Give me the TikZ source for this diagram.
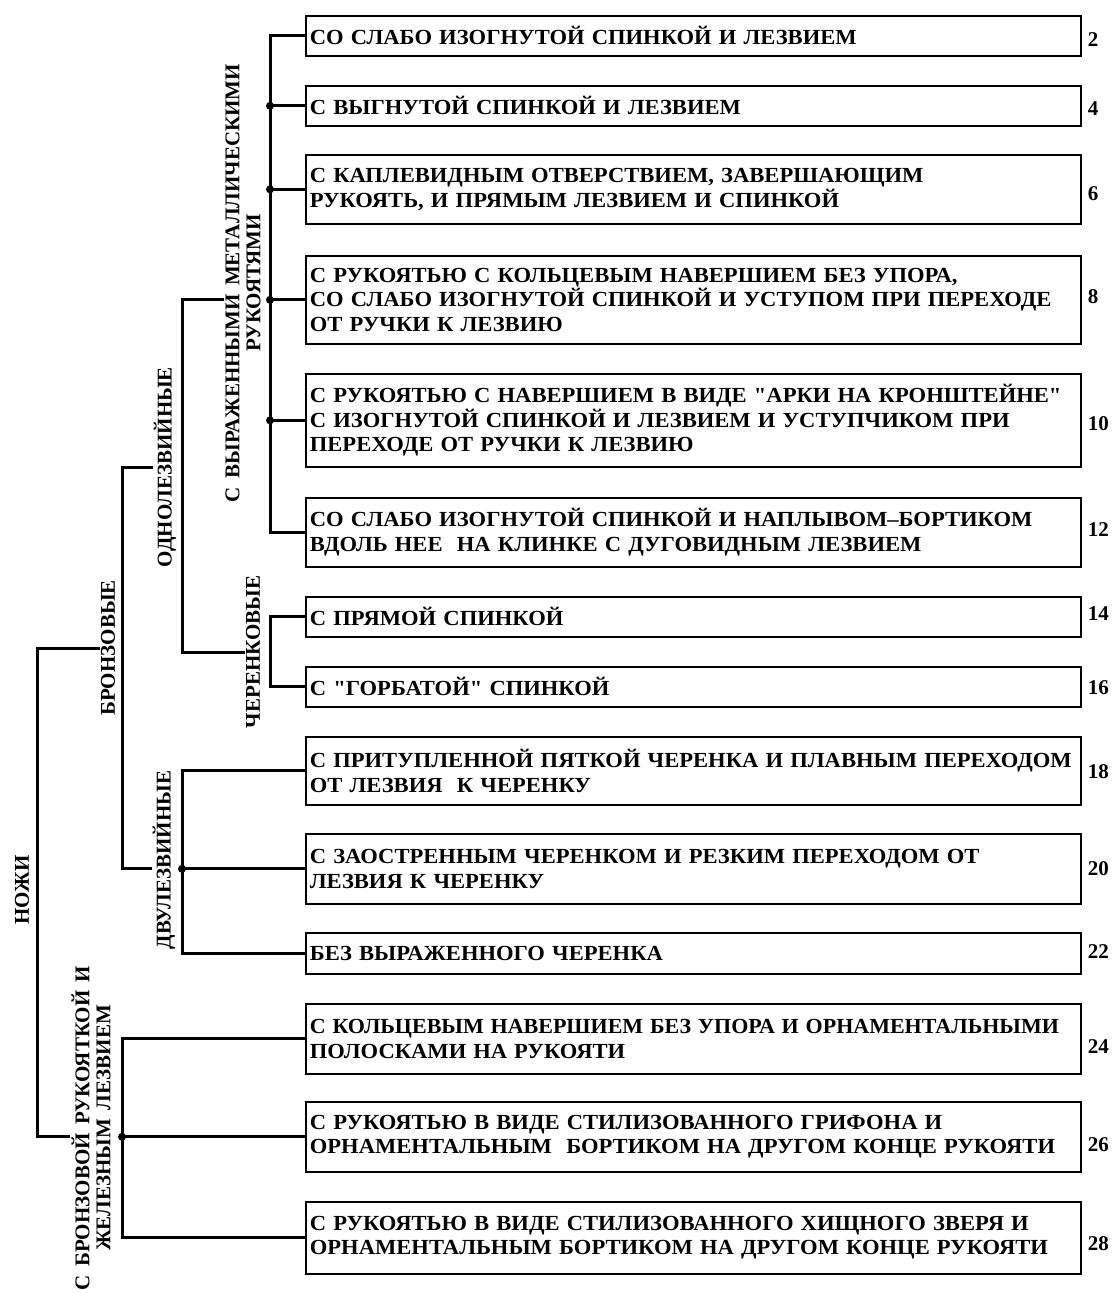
\documentclass[tikz,border=0pt]{standalone}
\usepackage{fontspec}
\usepackage{graphicx}
\setmainfont{Liberation Serif}
\newfontfamily\boxfont{Liberation Serif}[WordSpace=2.2, FakeStretch=1.05]
\newfontfamily\labfont{Liberation Serif}[WordSpace=1.6]
\begin{document}
\begin{tikzpicture}[x=1pt,y=-1pt,
  box/.style={draw, line width=1.7pt, anchor=north west, minimum width=775pt,
    text width=767pt, inner xsep=4pt, inner ysep=1pt, align=left,
    font=\boxfont\bfseries\fontsize{21.5}{24.5}\selectfont},
  lab/.style={rotate=90, font=\labfont\bfseries\fontsize{21}{21}\selectfont, inner sep=1pt, align=center},
  num/.style={anchor=west, font=\bfseries\fontsize{21}{22}\selectfont, inner sep=0pt},
  conn/.style={line width=3pt},
  dot/.style={circle, fill, inner sep=0pt, minimum size=8pt}
]
\useasboundingbox (0,0) rectangle (1116,1293);

% boxes
\node[box, minimum height=40pt] (b2)  at (305,15)   {СО СЛАБО ИЗОГНУТОЙ СПИНКОЙ И ЛЕЗВИЕМ};
\node[box, minimum height=40pt] (b4)  at (305,85)   {С ВЫГНУТОЙ СПИНКОЙ И ЛЕЗВИЕМ};
\node[box, minimum height=69pt] (b6)  at (305,154)  {С КАПЛЕВИДНЫМ ОТВЕРСТВИЕМ, ЗАВЕРШАЮЩИМ\\РУКОЯТЬ, И ПРЯМЫМ ЛЕЗВИЕМ И СПИНКОЙ};
\node[box, minimum height=88pt] (b8)  at (305,255)  {С РУКОЯТЬЮ С КОЛЬЦЕВЫМ НАВЕРШИЕМ БЕЗ УПОРА,\\СО СЛАБО ИЗОГНУТОЙ СПИНКОЙ И УСТУПОМ ПРИ ПЕРЕХОДЕ\\ОТ РУЧКИ К ЛЕЗВИЮ};
\node[box, minimum height=93pt] (b10) at (305,373)  {С РУКОЯТЬЮ С НАВЕРШИЕМ В ВИДЕ "АРКИ НА КРОНШТЕЙНЕ"\\С ИЗОГНУТОЙ СПИНКОЙ И ЛЕЗВИЕМ И УСТУПЧИКОМ ПРИ\\ПЕРЕХОДЕ ОТ РУЧКИ К ЛЕЗВИЮ};
\node[box, minimum height=69pt] (b12) at (305,497)  {СО СЛАБО ИЗОГНУТОЙ СПИНКОЙ И НАПЛЫВОМ–БОРТИКОМ\\ВДОЛЬ НЕЕ \ НА КЛИНКЕ С ДУГОВИДНЫМ ЛЕЗВИЕМ};
\node[box, minimum height=40pt] (b14) at (305,596)  {С ПРЯМОЙ СПИНКОЙ};
\node[box, minimum height=40pt] (b16) at (305,666)  {С "ГОРБАТОЙ" СПИНКОЙ};
\node[box, minimum height=68pt] (b18) at (305,736)  {С ПРИТУПЛЕННОЙ ПЯТКОЙ ЧЕРЕНКА И ПЛАВНЫМ ПЕРЕХОДОМ\\ОТ ЛЕЗВИЯ \ К ЧЕРЕНКУ};
\node[box, minimum height=70pt] (b20) at (305,833)  {С ЗАОСТРЕННЫМ ЧЕРЕНКОМ И РЕЗКИМ ПЕРЕХОДОМ ОТ\\ЛЕЗВИЯ К ЧЕРЕНКУ};
\node[box, minimum height=41pt] (b22) at (305,932)  {БЕЗ ВЫРАЖЕННОГО ЧЕРЕНКА};
\node[box, minimum height=70pt] (b24) at (305,1003) {\spaceskip=7pt\scalebox{0.975}[1]{С КОЛЬЦЕВЫМ НАВЕРШИЕМ БЕЗ УПОРА И ОРНАМЕНТАЛЬНЫМИ}\\ПОЛОСКАМИ НА РУКОЯТИ};
\node[box, minimum height=70pt] (b26) at (305,1101) {С РУКОЯТЬЮ В ВИДЕ СТИЛИЗОВАННОГО ГРИФОНА И\\ОРНАМЕНТАЛЬНЫМ \ БОРТИКОМ НА ДРУГОМ КОНЦЕ РУКОЯТИ};
\node[box, minimum height=72pt] (b28) at (305,1201) {С РУКОЯТЬЮ В ВИДЕ СТИЛИЗОВАННОГО ХИЩНОГО ЗВЕРЯ И\\ОРНАМЕНТАЛЬНЫМ БОРТИКОМ НА ДРУГОМ КОНЦЕ РУКОЯТИ};

% numbers
\foreach \b/\n/\dy in {b2/2/4, b4/4/3, b6/6/4, b8/8/-3, b10/10/3, b12/12/-3, b14/14/-3, b16/16/1, b18/18/1, b20/20/0, b22/22/-2, b24/24/8, b26/26/8, b28/28/6}
  \node[num] (n\n) at ([xshift=6pt,yshift=-\dy pt]\b.east) {\n};

% rotated labels
\node[lab] (nozh) at (22,890)  {НОЖИ};
\node[lab] (bron) at (108,648) {БРОНЗОВЫЕ};
\node[lab] (fe)   at (91,1128) {С БРОНЗОВОЙ РУКОЯТКОЙ И\\ЖЕЛЕЗНЫМ ЛЕЗВИЕМ};
\node[lab] (odn)  at (165,467) {ОДНОЛЕЗВИЙНЫЕ};
\node[lab] (dvu)  at (164,860) {ДВУЛЕЗВИЙНЫЕ};
\node[lab] (vyr)  at (243,283) {С ВЫРАЖЕННЫМИ МЕТАЛЛИЧЕСКИМИ\\РУКОЯТЯМИ};
\node[lab] (cher) at (253,652) {ЧЕРЕНКОВЫЕ};

% bus positions
\coordinate (x0) at (37,0);
\coordinate (x1) at (122,0);
\coordinate (x2) at (182,0);
\coordinate (x3) at (270,0);

% НОЖИ
\draw[conn] (bron.north) -- (bron.north -| x0) -- (b26.west -| x0) -- (b26.west -| fe.north);
% БРОНЗОВЫЕ
\draw[conn] (odn.north) -- (odn.north -| x1) -- (b20.west -| x1) -- (b20.west -| dvu.north);
% ОДНОЛЕЗВИЙНЫЕ
\draw[conn] (b8.west -| vyr.north) -- (b8.west -| x2) -- (cher.north -| x2) -- (cher.north);
% С ВЫРАЖЕННЫМИ
\draw[conn] (b2.west) -- (b2.west -| x3) -- (b12.west -| x3) -- (b12.west);
\foreach \b in {b4,b6,b8,b10} {
  \draw[conn] (\b.west -| x3) -- (\b.west);
  \node[dot] at (\b.west -| x3) {};
}
% ЧЕРЕНКОВЫЕ
\draw[conn] (b14.west) -- (b14.west -| x3) -- (b16.west -| x3) -- (b16.west);
% ДВУЛЕЗВИЙНЫЕ
\draw[conn] (b18.west) -- (b18.west -| x2) -- (b22.west -| x2) -- (b22.west);
\draw[conn] (b20.west -| x2) -- (b20.west);
\node[dot] at (b20.west -| x2) {};
% С БРОНЗОВОЙ
\draw[conn] (b24.west) -- (b24.west -| x1) -- (b28.west -| x1) -- (b28.west);
\draw[conn] (b26.west -| x1) -- (b26.west);
\node[dot] at (b26.west -| x1) {};
\end{tikzpicture}
\end{document}
